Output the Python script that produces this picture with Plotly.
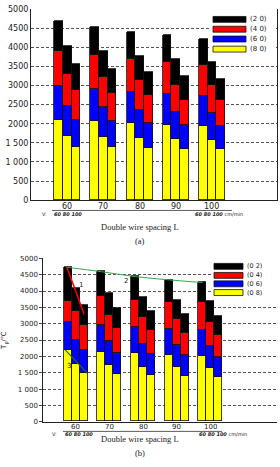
import plotly.graph_objects as go

W, H = 280, 467

# ---------------- data ----------------
groups = [60, 70, 80, 90, 100]
group_labels = ["60", "70", "80", "90", "100"]
speed_labels = "60 80 100"

layers_a = ["(8 0)", "(6 0)", "(4 0)", "(2 0)"]
layers_b = ["(0 8)", "(0 6)", "(0 4)", "(0 2)"]

# cumulative tops (yellow, blue, red, black) per group, per speed (60, 80, 100 cm/min)
a_yellow = [[2100, 1680, 1390], [2080, 1660, 1390], [2010, 1630, 1370], [1970, 1590, 1340], [1930, 1560, 1330]]
a_blue = [[2980, 2470, 2100], [2900, 2430, 2070], [2830, 2360, 2010], [2770, 2290, 1970], [2710, 2270, 1930]]
a_red = [[3900, 3300, 2880], [3790, 3210, 2810], [3700, 3130, 2740], [3600, 3000, 2610], [3540, 3000, 2610]]
a_black = [[4680, 4020, 3550], [4530, 3900, 3430], [4400, 3770, 3340], [4310, 3680, 3250], [4220, 3600, 3180]]

b_yellow = [[2200, 1760, 1480], [2130, 1730, 1450], [2100, 1680, 1430], [2040, 1660, 1390], [2000, 1630, 1360]]
b_blue = [[3050, 2500, 2180], [2960, 2450, 2110], [2880, 2380, 2060], [2820, 2340, 2030], [2790, 2300, 1980]]
b_red = [[3700, 3370, 2950], [3840, 3250, 2850], [3730, 3190, 2790], [3640, 3130, 2710], [3640, 3040, 2650]]
b_black = [[4730, 4070, 3550], [4590, 3920, 3460], [4440, 3820, 3370], [4340, 3730, 3290], [4260, 3670, 3240]]

# guide lines in panel (b)
line1_x = [57.3, 62.4]
line1_y = [4730, 3300]
line3_x = [56.8, 63.4]
line3_y = [2200, 1480]

y_ticks = [0, 500, 1000, 1500, 2000, 2500, 3000, 3500, 4000, 4500, 5000]
y_ticktext = ["0", "500", "1 000", "1 500", "2000", "2500", "3000", "3500", "4000", "4500", "5000"]

# ---------------- styles ----------------
colors = ["#ffff00", "#0000ff", "#ff0000", "#000000"]
offsets = [-2.4, 0.0, 2.4]
bar_w = 2.4


def px(x):
    return x / W


def py(y):
    return 1 - y / H


def stack(tops):
    segs = []
    prev = [[0] * 3 for _ in groups]
    for layer in tops:
        seg = []
        for gi in range(len(groups)):
            for si in range(3):
                seg.append(layer[gi][si] - prev[gi][si])
        prev = layer
        segs.append(seg)
    return segs


xs = [g + o for g in groups for o in offsets]

fig = go.Figure()

for panel, tops, xa, ya in [("a", [a_yellow, a_blue, a_red, a_black], "x", "y"),
                            ("b", [b_yellow, b_blue, b_red, b_black], "x2", "y2")]:
    segs = stack(tops)
    names = layers_a if panel == "a" else layers_b
    for li, seg in enumerate(segs):
        fig.add_trace(go.Bar(
            x=xs, y=seg, width=bar_w, name=names[li],
            marker=dict(color=colors[li], line=dict(color="#111", width=0.8)),
            xaxis=xa, yaxis=ya, showlegend=False,
        ))

# line 2 through bar1 tops in (b)
bar1_x = [g + offsets[0] for g in groups]
bar1_top = [row[0] for row in b_black]
fig.add_trace(go.Scatter(x=[bar1_x[0] - 0.6] + bar1_x[1:], y=bar1_top, mode="lines",
                         line=dict(color="#3aa64a", width=1, shape="spline"),
                         xaxis="x2", yaxis="y2", showlegend=False))
fig.add_trace(go.Scatter(x=line1_x, y=line1_y, mode="lines",
                         line=dict(color="#ff0000", width=1.5),
                         xaxis="x2", yaxis="y2", showlegend=False))
fig.add_trace(go.Scatter(x=line3_x, y=line3_y, mode="lines",
                         line=dict(color="#1f6a1f", width=1.2),
                         xaxis="x2", yaxis="y2", showlegend=False))

tickfont = dict(family="DejaVu Sans", size=8, color="#222")
grid = dict(showgrid=True, gridcolor="#555", gridwidth=1, griddash="3px,2px")

fig.update_layout(
    width=W, height=H,
    margin=dict(l=0, r=0, t=0, b=0),
    paper_bgcolor="white", plot_bgcolor="white",
    barmode="stack", bargap=0,
    showlegend=False,
    xaxis=dict(domain=[px(31), px(277)], range=[50, 118], anchor="y",
               tickvals=groups, showticklabels=False,
               showline=True, linecolor="#222", linewidth=1, showgrid=False,
               zeroline=False, ticks=""),
    yaxis=dict(domain=[py(200), py(5.3)], range=[0, 5000], anchor="x",
               tickvals=y_ticks, ticktext=y_ticktext, tickfont=tickfont,
               showline=True, mirror=True, linecolor="#222", linewidth=1,
               zeroline=False, ticks="", **grid),
    xaxis2=dict(domain=[px(43.3), px(277)], range=[50.3, 119.7], anchor="y2",
                tickvals=groups, showticklabels=False,
                showline=True, linecolor="#222", linewidth=1, showgrid=False,
                zeroline=False, ticks=""),
    yaxis2=dict(domain=[py(426), py(259.3)], range=[0, 5000], anchor="x2",
                tickvals=y_ticks, ticktext=y_ticktext,
                tickfont=dict(family="DejaVu Sans", size=7, color="#222"),
                showline=True, linecolor="#222", linewidth=1,
                zeroline=False, ticks="outside", ticklen=3, tickcolor="#444", **grid),
)

shapes = []
annotations = []

# category labels
for xref, yc, fs in [("x", 206.7, 8), ("x2", 431.8, 7)]:
    for g, lab in zip(groups, group_labels):
        annotations.append(dict(text=lab, xref=xref, yref="paper", x=g, y=py(yc),
                                xanchor="center", yanchor="middle", showarrow=False,
                                font=dict(family="DejaVu Sans", size=fs, color="#222")))

# legends (drawn as swatches)
legend_specs = [
    (layers_a, 213, 246, [15.7, 25.7, 35.7, 46.0], 6, 7),
    (layers_b, 214, 243, [267.5, 276.7, 285.3, 294.2], 6, 6.5),
]
for names, x0, x1, rows, hh, fs in legend_specs:
    shapes.append(dict(type="rect", xref="paper", yref="paper",
                       x0=px(x0 - 2), x1=px(276), y0=py(rows[-1] + 5), y1=py(rows[0] - 5),
                       fillcolor="white", line=dict(width=0), layer="above"))
    for ri, li in enumerate([3, 2, 1, 0]):
        yc = rows[ri]
        shapes.append(dict(type="rect", xref="paper", yref="paper",
                           x0=px(x0), x1=px(x1), y0=py(yc + hh / 2), y1=py(yc - hh / 2),
                           fillcolor=colors[li], line=dict(color="#111", width=0.8), layer="above"))
        annotations.append(dict(text=names[li], xref="paper", yref="paper",
                                x=px(x1 + 1.5), y=py(yc), xanchor="left", yanchor="middle",
                                showarrow=False, font=dict(family="DejaVu Sans", size=fs, color="#222")))

small = dict(family="DejaVu Sans", size=5, color="#222")
# speed annotations under axes
for (vy, vx, nx, rx, lx0, lx1, ly) in [(214, 40, 52, 193, 52, 232, 210.5),
                                       (438, 50, 63, 197, 63, 222, 435.8)]:
    annotations.append(dict(text="V:", xref="paper", yref="paper", x=px(vx), y=py(vy),
                            xanchor="left", yanchor="middle", showarrow=False, font=small))
    annotations.append(dict(text="<b><i>" + speed_labels + "</i></b>", xref="paper", yref="paper",
                            x=px(nx), y=py(vy), xanchor="left", yanchor="middle",
                            showarrow=False, font=small))
    annotations.append(dict(text="<b><i>" + speed_labels + "</i></b> cm/min", xref="paper", yref="paper",
                            x=px(rx), y=py(vy), xanchor="left", yanchor="middle",
                            showarrow=False, font=small))
    shapes.append(dict(type="line", xref="paper", yref="paper", x0=px(lx0), x1=px(lx1),
                       y0=py(ly), y1=py(ly), line=dict(color="#333", width=0.8)))

# captions
serif = dict(family="Liberation Serif", size=8.5, color="#222")
for text, y in [("Double wire spacing L", 227.3), ("(a)", 241.7),
                ("Double wire spacing L", 443.5), ("(b)", 457.7)]:
    annotations.append(dict(text=text, xref="paper", yref="paper", x=px(139.5), y=py(y),
                            xanchor="center", yanchor="middle", showarrow=False, font=serif))

# y-axis title of (b)
annotations.append(dict(text="T<sub>p</sub>/℃", xref="paper", yref="paper", x=px(4.5), y=py(343),
                        xanchor="center", yanchor="middle", textangle=-90, showarrow=False,
                        font=dict(family="DejaVu Sans", size=7, color="#222")))

# line labels in (b)
for text, x, y in [("1", 61.4, 4190), ("2", 75.0, 4320), ("3", 57.8, 1700)]:
    annotations.append(dict(text=text, xref="x2", yref="y2", x=x, y=y, showarrow=False,
                            font=dict(family="DejaVu Sans", size=7, color="#222")))

fig.update_layout(shapes=shapes, annotations=annotations)

fig.write_html("out.html")
